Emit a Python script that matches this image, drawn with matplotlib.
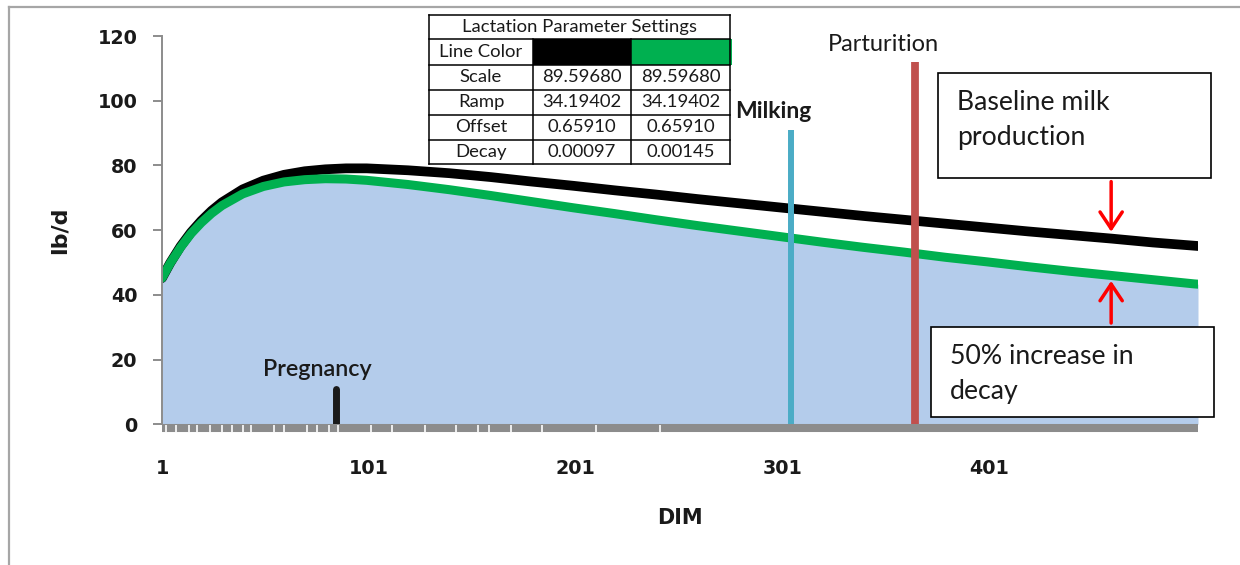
import matplotlib
matplotlib.use("Agg")
import matplotlib.pyplot as plt
from matplotlib.patches import Rectangle
from matplotlib.lines import Line2D

# lactation curves (lb/d by DIM)
dim = [1, 5, 10, 15, 20, 25, 30, 40, 50, 60, 70, 80, 90, 100, 120, 140, 160, 180,
       200, 220, 240, 260, 280, 300, 320, 340, 360, 380, 400, 420, 440, 460, 480, 500, 502]
baseline = [45.2, 49.9, 55.0, 59.3, 62.9, 66.0, 68.6, 72.6, 75.3, 77.1, 78.2, 78.8, 79.1, 79.1,
            78.5, 77.6, 76.4, 75.0, 73.7, 72.3, 71.0, 69.6, 68.3, 67.0, 65.7, 64.4, 63.2, 62.0,
            60.8, 59.6, 58.5, 57.4, 56.2, 55.2, 55.1]
faster_decay = [45.2, 49.8, 54.7, 58.9, 62.3, 65.2, 67.6, 71.2, 73.5, 74.9, 75.6, 75.9, 75.8, 75.4,
                74.1, 72.5, 70.7, 68.8, 66.9, 65.1, 63.2, 61.4, 59.7, 58.0, 56.3, 54.7, 53.2, 51.6,
                50.2, 48.7, 47.3, 46.0, 44.7, 43.4, 43.3]

# events
pregnancy_day, pregnancy_h = 85, 11
milking_day, milking_h = 305, 91
parturition_day, parturition_h = 365, 112

# white marks on the gray axis bar
axis_marks = [3, 8, 14, 18, 24, 30, 35, 40, 44, 55, 60, 71, 76, 82, 86, 102, 112, 128,
              143, 154, 159, 170, 185, 211, 242]

xticks = [1, 101, 201, 301, 401]
yticks = [0, 20, 40, 60, 80, 100, 120]

# parameter table
param_names = ["Scale", "Ramp", "Offset", "Decay"]
params_black = ["89.59680", "34.19402", "0.65910", "0.00097"]
params_green = ["89.59680", "34.19402", "0.65910", "0.00145"]

W, H = 1240, 565
BLUE_FILL = "#B4CCEB"
GREEN = "#00B050"
GRAY = "#8C8C8C"
SANS = "Lato"


def fpx(x, y):
    return x / W, 1 - y / H


fig = plt.figure(figsize=(W / 100, H / 100), dpi=100)
ax = fig.add_axes([162 / W, (H - 424.3) / H, (1198 - 162) / W, (424.3 - 36) / H])

ax.fill_between(dim, 0, faster_decay, color=BLUE_FILL, lw=0, zorder=1)
ax.plot(dim, baseline, color="black", lw=7, solid_capstyle="round", zorder=3)
ax.plot(dim, faster_decay, color=GREEN, lw=6.5, solid_capstyle="round", zorder=4)

# gray bar at the bottom with white marks
ax.axhline(-1.15, color=GRAY, lw=5.8, solid_capstyle="butt", clip_on=False, zorder=5)
ax.vlines(axis_marks, -2.3, -0.1, colors="white", lw=1.2, clip_on=False, zorder=6)

# event lines
ax.vlines(milking_day, 0, milking_h, colors="#4BACC6", lw=4.3, zorder=7)
ax.vlines(parturition_day, 0, parturition_h, colors="#C0504D", lw=5.6, zorder=7)
ax.plot([pregnancy_day, pregnancy_day], [0, pregnancy_h], color="#1A1A1A", lw=5,
        solid_capstyle="round", zorder=7)

ax.text(milking_day - 27, 96.6, "Milking", fontsize=16.5, fontweight="bold",
        family=SANS, va="center", ha="left", color="#1A1A1A")
ax.text(parturition_day - 42, 117.5, "Parturition", fontsize=17, family=SANS,
        va="center", ha="left", color="#1A1A1A", clip_on=False)
ax.text(pregnancy_day - 9, 16.8, "Pregnancy", fontsize=16.8, fontweight="semibold",
        family=SANS, va="center", ha="center", color="#1A1A1A")

# red arrows
arrow = dict(arrowstyle="->,head_length=0.6,head_width=0.4", color="red", lw=2.5,
             mutation_scale=20, shrinkA=0, shrinkB=0)
ax.annotate("", xy=(460, 59.5), xytext=(460, 75), arrowprops=arrow, zorder=8)
ax.annotate("", xy=(460, 44.3), xytext=(460, 31.3), arrowprops=arrow, zorder=8)

ax.set_xlim(1, 502)
ax.set_ylim(0, 120)
ax.set_xticks(xticks)
ax.set_yticks(yticks)
ax.tick_params(axis="x", length=0, pad=25, labelsize=13.8)
ax.tick_params(axis="y", length=6.8, width=1.4, color=GRAY, pad=11, labelsize=13.8)
for lab in ax.get_xticklabels() + ax.get_yticklabels():
    lab.set_fontweight("bold")
    lab.set_color("#1A1A1A")
for side in ["top", "right", "bottom"]:
    ax.spines[side].set_visible(False)
ax.spines["left"].set_color(GRAY)
ax.spines["left"].set_linewidth(1.4)
ax.spines["left"].set_zorder(6)
ax.patch.set_alpha(0)

ax.set_xlabel("DIM", fontsize=15, fontweight="bold", color="#1A1A1A")
ax.xaxis.set_label_coords(0.5, (424.3 - 518) / (424.3 - 36))
ax.xaxis.label.set_va("center")
ax.set_ylabel("lb/d", fontsize=16, fontweight="bold", color="#1A1A1A")
ax.yaxis.set_label_coords((60 - 162) / (1198 - 162), 0.5)
ax.yaxis.label.set_va("center")

# outer chart border (partly visible)
fig.add_artist(Line2D([9 / W, 9 / W], [0, 1 - 7 / H], color="#A6A6A6", lw=1.6))
fig.add_artist(Line2D([9 / W, 1], [1 - 7 / H, 1 - 7 / H], color="#A6A6A6", lw=1.6))


def box(x0, y0, x1, y1, lines, size):
    fx, fy = fpx(x0, y1)
    fig.add_artist(Rectangle((fx, fy), (x1 - x0) / W, (y1 - y0) / H, transform=fig.transFigure,
                             facecolor="white", edgecolor="black", lw=1.2, zorder=10))
    for text, tx, ty in lines:
        fig.text(*fpx(tx, ty), text, fontsize=size, family=SANS, va="center", ha="left",
                 color="#1A1A1A", zorder=11)


box(938, 73, 1211, 178, [("Baseline milk", 957, 102), ("production", 957, 137)], 19.2)
box(931, 327, 1214, 417, [("50% increase in", 950, 356), ("decay", 950, 391)], 19.2)

# parameter table
TS = 13.3
cols = [429, 533, 631, 730]
rows = [15, 39, 65, 90, 115, 140, 164]
fig.add_artist(Rectangle(fpx(cols[0], rows[-1]), (cols[-1] - cols[0]) / W, (rows[-1] - rows[0]) / H,
                         transform=fig.transFigure, facecolor="white", edgecolor="none", zorder=9))
fig.add_artist(Rectangle(fpx(cols[1], rows[2]), (cols[2] - cols[1]) / W, (rows[2] - rows[1]) / H,
                         transform=fig.transFigure, facecolor="black", edgecolor="none", zorder=9))
fig.add_artist(Rectangle(fpx(cols[2], rows[2]), (cols[3] + 2 - cols[2]) / W, (rows[2] - rows[1]) / H,
                         transform=fig.transFigure, facecolor=GREEN, edgecolor="none", zorder=9))
for r in rows:
    fig.add_artist(Line2D([cols[0] / W, cols[-1] / W], [1 - r / H, 1 - r / H], color="black",
                          lw=1.1, zorder=10))
for i, c in enumerate(cols):
    top = rows[0] if i in (0, 3) else rows[1]
    fig.add_artist(Line2D([c / W, c / W], [1 - top / H, 1 - rows[-1] / H], color="black",
                          lw=1.1, zorder=10))
fig.text(*fpx((cols[0] + cols[3]) / 2, (rows[0] + rows[1]) / 2), "Lactation Parameter Settings",
         fontsize=TS, family=SANS, ha="center", va="center", color="#1A1A1A", zorder=11)
fig.text(*fpx((cols[0] + cols[1]) / 2, (rows[1] + rows[2]) / 2), "Line Color",
         fontsize=TS, family=SANS, ha="center", va="center", color="#1A1A1A", zorder=11)
for i, name in enumerate(param_names):
    yc = (rows[i + 2] + rows[i + 3]) / 2
    fig.text(*fpx((cols[0] + cols[1]) / 2, yc), name, fontsize=TS, family=SANS,
             ha="center", va="center", color="#1A1A1A", zorder=11)
    fig.text(*fpx((cols[1] + cols[2]) / 2, yc), params_black[i], fontsize=TS, family=SANS,
             ha="center", va="center", color="#1A1A1A", zorder=11)
    fig.text(*fpx((cols[2] + cols[3]) / 2, yc), params_green[i], fontsize=TS, family=SANS,
             ha="center", va="center", color="#1A1A1A", zorder=11)

fig.savefig("out.png", dpi=100)
